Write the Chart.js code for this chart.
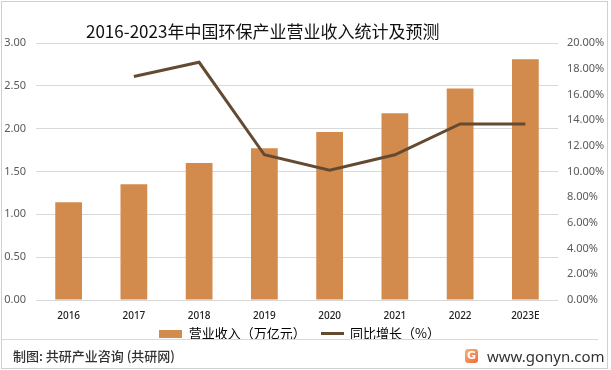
<!DOCTYPE html>
<html>
<head>
<meta charset="utf-8">
<script src="https://cdn.jsdelivr.net/npm/chart.js@4.4.1/dist/chart.umd.min.js"></script>
<style>
  html, body { margin: 0; padding: 0; background: #fff; }
  #wrap { position: relative; width: 611px; height: 370px; overflow: hidden; }
  #frame { position: absolute; left: 1px; top: 1px; width: 605px; height: 366px; border: 1px solid #d0d0d0; }
  #title { position: absolute; left: 86px; top: 18px; font: 17px "Noto Sans CJK SC", sans-serif; color: #111; white-space: nowrap; }
  #chartBox { position: absolute; left: 0; top: 0; width: 611px; height: 350px; }
  #sep { position: absolute; left: 2px; top: 339px; width: 596px; height: 1px; background: #d9d9d9; }
  #source { position: absolute; left: 13px; top: 346px; font: 500 13px "Noto Sans CJK SC", sans-serif; color: #333; }
  #logo { position: absolute; left: 465px; top: 349px; width: 13px; height: 14px; border-radius: 3px;
          background: linear-gradient(135deg, #f7b27a, #ef6a3c); color: #fff; font: bold 11px "DejaVu Sans", sans-serif;
          text-align: center; line-height: 14px; }
  #site { position: absolute; left: 487px; top: 346px; font: 15px "Noto Sans", sans-serif; color: #333; }
</style>
</head>
<body>
<div id="wrap">
  <div id="frame"></div>
  <div id="chartBox"><canvas id="c"></canvas></div>
  <div id="title">2016-2023年中国环保产业营业收入统计及预测</div>
  <div id="sep"></div>
  <div id="source">制图: 共研产业咨询 (共研网)</div>
  <div id="logo">G</div>
  <div id="site">www.gonyn.com</div>
</div>
<script>
// 数据
const years = ['2016', '2017', '2018', '2019', '2020', '2021', '2022', '2023E'];
const revenue = [1.14, 1.35, 1.60, 1.77, 1.96, 2.18, 2.47, 2.81];     // 营业收入（万亿元）
const growth = [null, 17.4, 18.5, 11.3, 10.1, 11.3, 13.7, 13.7];      // 同比增长（%）
const leftTicks = [0, 0.5, 1, 1.5, 2, 2.5, 3];
const rightTicks = [0, 2, 4, 6, 8, 10, 12, 14, 16, 18, 20];

const barColor = '#D38B4D';
const lineColor = '#654A32';

// 图例小图标
function swatch(color, w, h) {
  const cv = document.createElement('canvas');
  cv.width = w; cv.height = h;
  const g = cv.getContext('2d');
  g.fillStyle = color;
  g.fillRect(0, 0, w, h);
  return cv;
}
const barIcon = swatch(barColor, 23, 8);
const lineIcon = swatch(lineColor, 23, 3);

new Chart(document.getElementById('c'), {
  data: {
    labels: years,
    datasets: [
      {
        type: 'line',
        label: '同比增长（%）',
        data: growth,
        yAxisID: 'y1',
        borderColor: lineColor,
        backgroundColor: lineColor,
        borderWidth: 3,
        pointRadius: 0,
        tension: 0,
        order: 0
      },
      {
        type: 'bar',
        label: '营业收入（万亿元）',
        data: revenue,
        yAxisID: 'y',
        backgroundColor: barColor,
        categoryPercentage: 1,
        barPercentage: 0.41,
        order: 1
      }
    ]
  },
  options: {
    responsive: true,
    maintainAspectRatio: false,
    animation: false,
    layout: { padding: { top: 43, left: 0, right: 0, bottom: 0 } },
    plugins: {
      title: { display: false },
      tooltip: { enabled: false },
      legend: {
        position: 'bottom',
        labels: {
          font: { family: '"Noto Sans CJK SC", sans-serif', size: 13 },
          color: '#222',
          usePointStyle: true,
          pointStyleWidth: 23,
          boxHeight: 8,
          padding: 3,
          generateLabels: (chart) => chart.data.datasets.map((ds, i) => ({
            text: ds.label + '    ',
            fillStyle: ds.type === 'bar' ? barColor : lineColor,
            strokeStyle: ds.type === 'bar' ? barColor : lineColor,
            lineWidth: 0,
            pointStyle: ds.type === 'bar' ? barIcon : lineIcon,
            datasetIndex: i
          })).reverse()
        }
      }
    },
    scales: {
      x: {
        grid: { display: false },
        border: { display: false },
        ticks: {
          font: { family: '"Noto Sans", sans-serif', size: 10, weight: '500' },
          color: '#222',
          padding: 2,
          maxRotation: 0
        }
      },
      y: {
        position: 'left',
        min: 0,
        max: 3,
        afterBuildTicks: (s) => { s.ticks = leftTicks.map(v => ({ value: v })); },
        afterFit: (s) => { s.width = 36; },
        grid: { color: '#d9d9d9', drawTicks: false },
        border: { display: false },
        ticks: {
          font: { family: '"Noto Sans", sans-serif', size: 11 },
          color: '#595959',
          padding: 10,
          callback: (v) => v.toFixed(2)
        }
      },
      y1: {
        position: 'right',
        min: 0,
        max: 20,
        afterBuildTicks: (s) => { s.ticks = rightTicks.map(v => ({ value: v })); },
        afterFit: (s) => { s.width = 53; },
        grid: { display: false, drawTicks: false },
        border: { display: false },
        ticks: {
          font: { family: '"Noto Sans", sans-serif', size: 11 },
          color: '#595959',
          padding: 9,
          callback: (v) => v.toFixed(2) + '%'
        }
      }
    }
  }
});
</script>
</body>
</html>
